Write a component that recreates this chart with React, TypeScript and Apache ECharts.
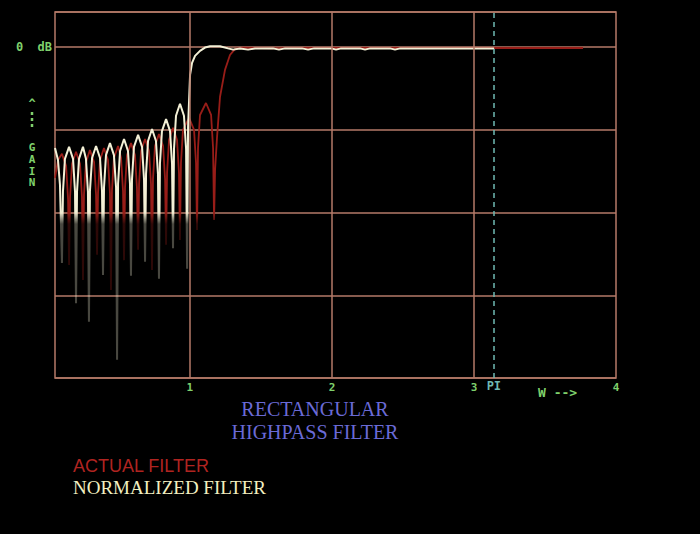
import React, { useEffect, useRef } from "react";
import * as echarts from "echarts";

// Axis ticks / labels
const xTickValues = [1, 2, 3, 4];
const xGridValues = [1, 2, 3];
const piValue = 3.1416;
const yMin = -80;
const yMax = 8.5;
const yInterval = 20;

// NORMALIZED FILTER : [w, gain dB]
const normalizedFilter: [number, number][] = [
  [0.05, -24.4], [0.071, -27.3], [0.085, -33.3], [0.099, -52.2],
  [0.106, -35.0], [0.12, -27.0], [0.149, -24.1], [0.177, -27.0], [0.191, -35.0], [0.198, -61.9],
  [0.205, -35.0], [0.219, -27.0], [0.247, -24.1], [0.268, -27.0], [0.282, -35.0], [0.289, -66.4],
  [0.296, -34.8], [0.311, -26.8], [0.339, -23.9], [0.367, -26.8], [0.381, -34.8], [0.388, -55.1],
  [0.395, -34.0], [0.409, -26.1], [0.437, -23.2], [0.465, -26.1], [0.48, -34.0], [0.487, -75.6],
  [0.494, -33.1], [0.508, -25.1], [0.536, -22.2], [0.564, -25.1], [0.578, -33.1], [0.585, -55.3],
  [0.592, -32.1], [0.606, -24.1], [0.635, -21.2], [0.663, -24.1], [0.677, -32.1], [0.684, -51.9],
  [0.691, -30.7], [0.705, -22.7], [0.733, -19.8], [0.761, -22.7], [0.775, -30.7], [0.782, -56.0],
  [0.789, -28.2], [0.803, -20.3], [0.832, -17.4], [0.86, -20.3], [0.874, -28.2], [0.881, -48.6],
  [0.888, -24.6], [0.902, -16.6], [0.93, -13.7], [0.958, -16.6], [0.973, -24.6], [0.98, -53.6],
  [0.987, -19.3], [1.001, -6.7], [1.015, -3.8], [1.036, -2.1], [1.071, -0.9], [1.106, -0.1],
  [1.142, 0.2], [1.212, 0.2], [1.268, -0.3], [1.304, -0.6], [1.353, -0.3], [1.409, -0.6],
  [1.458, -0.3], [1.585, -0.3], [1.627, -0.6], [1.67, -0.3], [1.789, -0.3], [1.832, -0.6],
  [1.874, -0.3], [1.994, -0.3], [2.029, -0.6], [2.064, -0.3], [2.198, -0.3], [2.233, -0.6],
  [2.268, -0.3], [2.409, -0.3], [2.444, -0.6], [2.48, -0.3], [3.142, -0.3],
];

// ACTUAL FILTER : [w, gain dB]
const actualFilter: [number, number][] = [
  [0.05, -31.6], [0.071, -27.3], [0.099, -25.8], [0.128, -28.7], [0.142, -36.7], [0.149, -52.7],
  [0.156, -36.2], [0.17, -28.2], [0.198, -25.3], [0.226, -28.2], [0.24, -36.2], [0.247, -56.3],
  [0.254, -35.7], [0.268, -27.8], [0.296, -24.9], [0.325, -27.8], [0.339, -35.7], [0.346, -50.2],
  [0.353, -35.3], [0.367, -27.3], [0.395, -24.4], [0.423, -27.3], [0.437, -35.3], [0.444, -58.7],
  [0.451, -34.8], [0.465, -26.8], [0.494, -23.9], [0.515, -26.8], [0.529, -34.8], [0.536, -51.5],
  [0.543, -34.0], [0.557, -26.1], [0.585, -23.2], [0.613, -26.1], [0.627, -34.0], [0.635, -49.0],
  [0.642, -33.1], [0.656, -25.1], [0.684, -22.2], [0.712, -25.1], [0.726, -33.1], [0.733, -53.9],
  [0.74, -31.9], [0.754, -23.9], [0.782, -21.0], [0.811, -23.9], [0.825, -31.9], [0.832, -47.8],
  [0.839, -30.4], [0.853, -22.4], [0.881, -19.5], [0.909, -22.4], [0.923, -30.4], [0.93, -46.6],
  [0.937, -28.0], [0.951, -20.0], [0.994, -17.1], [1.029, -20.0], [1.043, -28.0], [1.05, -44.2],
  [1.057, -24.4], [1.071, -16.4], [1.113, -13.5], [1.149, -16.4], [1.163, -24.4], [1.17, -41.8],
  [1.177, -29.7], [1.191, -21.7], [1.212, -12.0], [1.247, -5.5], [1.282, -1.9], [1.318, -0.4],
  [1.367, -0.1], [1.564, -0.3], [1.775, -0.2], [2.48, -0.2], [3.768, -0.2],
];

const GRID = "#b57a68";
const GREEN = "#7fd06c";
const CYAN = "#6fb9b2";
const WHITE = "#f3f0d6";
const RED = "#981d18";
const MONO = "'DejaVu Sans Mono', monospace";

function fade(color: string, dim: string) {
  return new echarts.graphic.LinearGradient(
    0, 212, 0, 224,
    [
      { offset: 0, color },
      { offset: 1, color: dim },
    ],
    true
  );
}

export default function App() {
  const ref = useRef<HTMLDivElement>(null);

  useEffect(() => {
    document.body.style.margin = "0";
    document.body.style.background = "#000";
    const chart = echarts.init(ref.current!, null, { renderer: "svg" });
    chart.setOption({
      animation: false,
      backgroundColor: "#000",
      title: {
        text: "RECTANGULAR\nHIGHPASS FILTER",
        left: 315,
        top: 397,
        padding: 0,
        textAlign: "center",
        textStyle: {
          color: "#6a6ad6",
          fontFamily: "'Liberation Serif', serif",
          fontSize: 20,
          fontWeight: "normal",
          lineHeight: 23,
        },
      },
      legend: {
        orient: "vertical",
        left: 68,
        top: 456,
        itemGap: 1,
        itemWidth: 0,
        itemHeight: 0,
        icon: "rect",
        selectedMode: false,
        padding: 0,
        data: [
          {
            name: "ACTUAL FILTER",
            textStyle: { color: "#b02420", fontFamily: "'Liberation Sans', sans-serif", fontSize: 18, lineHeight: 20 },
          },
          {
            name: "NORMALIZED FILTER",
            textStyle: { color: "#f2efc0", fontFamily: "'Liberation Serif', serif", fontSize: 19, lineHeight: 20 },
          },
        ],
      },
      grid: {
        left: 55,
        right: 84,
        top: 12,
        bottom: 156,
        show: true,
        borderColor: GRID,
        borderWidth: 1.5,
        backgroundColor: "transparent",
      },
      xAxis: {
        type: "value",
        min: 0.05,
        max: 4,
        axisLine: { show: false },
        axisTick: { show: false },
        splitLine: { show: false },
        axisLabel: {
          customValues: xTickValues,
          formatter: (v: number) => String(Math.round(v)),
          color: GREEN,
          fontFamily: MONO,
          fontWeight: "bold",
          fontSize: 11,
          margin: 4,
        },
      },
      yAxis: {
        type: "value",
        min: yMin,
        max: yMax,
        interval: yInterval,
        axisLine: { show: false },
        axisTick: { show: false },
        splitLine: { show: true, lineStyle: { color: GRID, width: 1.5 } },
        axisLabel: {
          formatter: (v: number) => (v === 0 ? "0  dB" : ""),
          color: GREEN,
          fontFamily: MONO,
          fontWeight: "bold",
          fontSize: 12,
          margin: 3,
        },
      },
      graphic: [
        {
          type: "text",
          left: 538,
          top: 386,
          style: { text: "W -->", fill: GREEN, font: `bold 13px ${MONO}` },
        },
        {
          type: "text",
          x: 32,
          y: 104,
          style: { text: "^", fill: GREEN, font: `bold 12px ${MONO}`, align: "center", verticalAlign: "middle" },
        },
        {
          type: "line",
          shape: { x1: 32, y1: 112, x2: 32, y2: 129 },
          style: { stroke: GREEN, lineWidth: 2.5, lineDash: [3, 3] },
        },
        {
          type: "text",
          x: 32,
          y: 142,
          style: {
            text: "G\nA\nI\nN",
            fill: GREEN,
            font: `bold 11px ${MONO}`,
            lineHeight: 11.7,
            align: "center",
            verticalAlign: "top",
          },
        },
      ],
      series: [
        {
          name: "ACTUAL FILTER",
          type: "line",
          data: actualFilter,
          showSymbol: false,
          symbol: "none",
          itemStyle: { color: RED },
          lineStyle: { color: fade(RED, "rgba(152,29,24,0.3)"), width: 1.8 },
          z: 2,
          markLine: {
            silent: true,
            symbol: "none",
            animation: false,
            data: [
              ...xGridValues.map((v) => ({
                xAxis: v,
                lineStyle: { color: GRID, width: 1.5, type: "solid" },
                label: { show: false },
              })),
              {
                xAxis: piValue,
                lineStyle: { color: CYAN, width: 1.5, type: [5, 4] },
                label: {
                  show: true,
                  position: "start",
                  distance: 2,
                  formatter: "PI",
                  color: CYAN,
                  fontFamily: MONO,
                  fontWeight: "bold",
                  fontSize: 12,
                },
              },
            ],
          },
        },
        {
          name: "NORMALIZED FILTER",
          type: "line",
          data: normalizedFilter,
          showSymbol: false,
          symbol: "none",
          itemStyle: { color: WHITE },
          lineStyle: { color: fade(WHITE, "rgba(243,240,214,0.3)"), width: 2 },
          z: 3,
        },
      ],
    });
    return () => chart.dispose();
  }, []);

  return (
    <div
      ref={ref}
      style={{ position: "fixed", left: 0, top: 0, width: 700, height: 534, background: "#000" }}
    />
  );
}
